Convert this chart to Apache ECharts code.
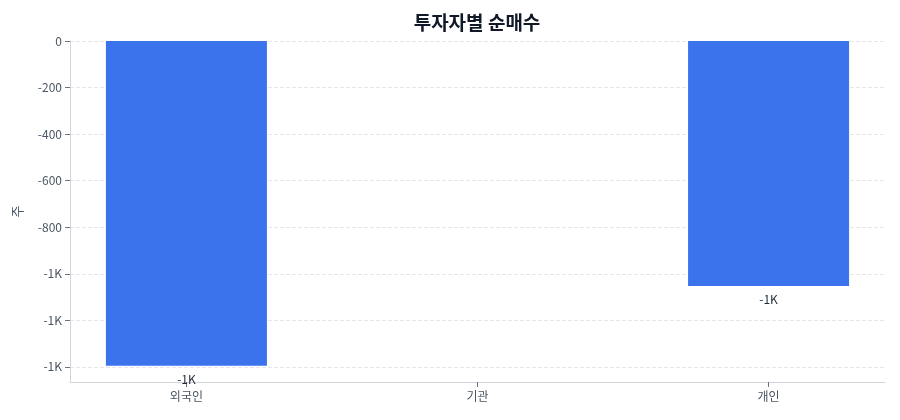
<!DOCTYPE html>
<html><head><meta charset="utf-8">
<script src="https://cdn.jsdelivr.net/npm/echarts@6/dist/echarts.min.js"></script>
<style>html,body{margin:0;padding:0;background:#fff}#c{width:900px;height:420px}</style>
</head><body><div id="c"></div>
<script>
const categories = ['외국인', '기관', '개인'];
const netBuy = [-1395, 0, -1052];
const titleText = '투자자별 순매수';
const yName = '주';

function fmt(v) {
  if (Math.abs(v) >= 1000) return (v / 1000).toFixed(0) + 'K';
  return String(Math.round(v));
}
const FONT = '"Noto Sans CJK KR", "Noto Sans", sans-serif';
const catIdx = categories.map(function (c, i) { return i; });
const chart = echarts.init(document.getElementById('c'));
chart.setOption({
  animation: false,
  textStyle: { fontFamily: FONT },
  title: {
    text: titleText, left: 472, top: 8, textAlign: 'center',
    textStyle: { fontSize: 19, fontWeight: 'bold', color: '#111827', fontFamily: FONT }
  },
  grid: { left: 70, right: 15, top: 41, bottom: 38 },
  xAxis: {
    type: 'value', min: -0.4, max: categories.length - 0.6,
    splitLine: { show: false },
    axisLine: { show: true, onZero: false, lineStyle: { color: '#d1d5db' } },
    axisTick: { show: true, customValues: catIdx, lineStyle: { color: '#6b7280' } },
    axisLabel: { color: '#4b5563', fontSize: 12, margin: 8, customValues: catIdx,
      formatter: function (v) { return categories[Math.round(v)]; } }
  },
  yAxis: {
    type: 'value', name: yName, nameLocation: 'middle', nameGap: 46,
    nameTextStyle: { color: '#4b5563', fontSize: 13 },
    max: 0,
    min: function (v) { return v.min * 1.05; },
    splitNumber: 7,
    axisLine: { show: true, onZero: false, lineStyle: { color: '#d1d5db' } },
    axisTick: { show: true, lineStyle: { color: '#6b7280' } },
    axisLabel: { color: '#4b5563', fontSize: 12, formatter: fmt, showMinLabel: false },
    splitLine: { lineStyle: { type: 'dashed', color: '#e5e7eb' } }
  },
  series: [{
    type: 'bar', data: netBuy.map(function (v, i) { return [i, v]; }), barWidth: 161,
    itemStyle: { color: '#3b73ec' },
    label: { show: true, position: 'bottom', distance: 8, color: '#1f2937', fontSize: 12,
      formatter: function (p) { return p.value[1] === 0 ? '' : fmt(p.value[1]); } }
  }]
});
</script></body></html>
